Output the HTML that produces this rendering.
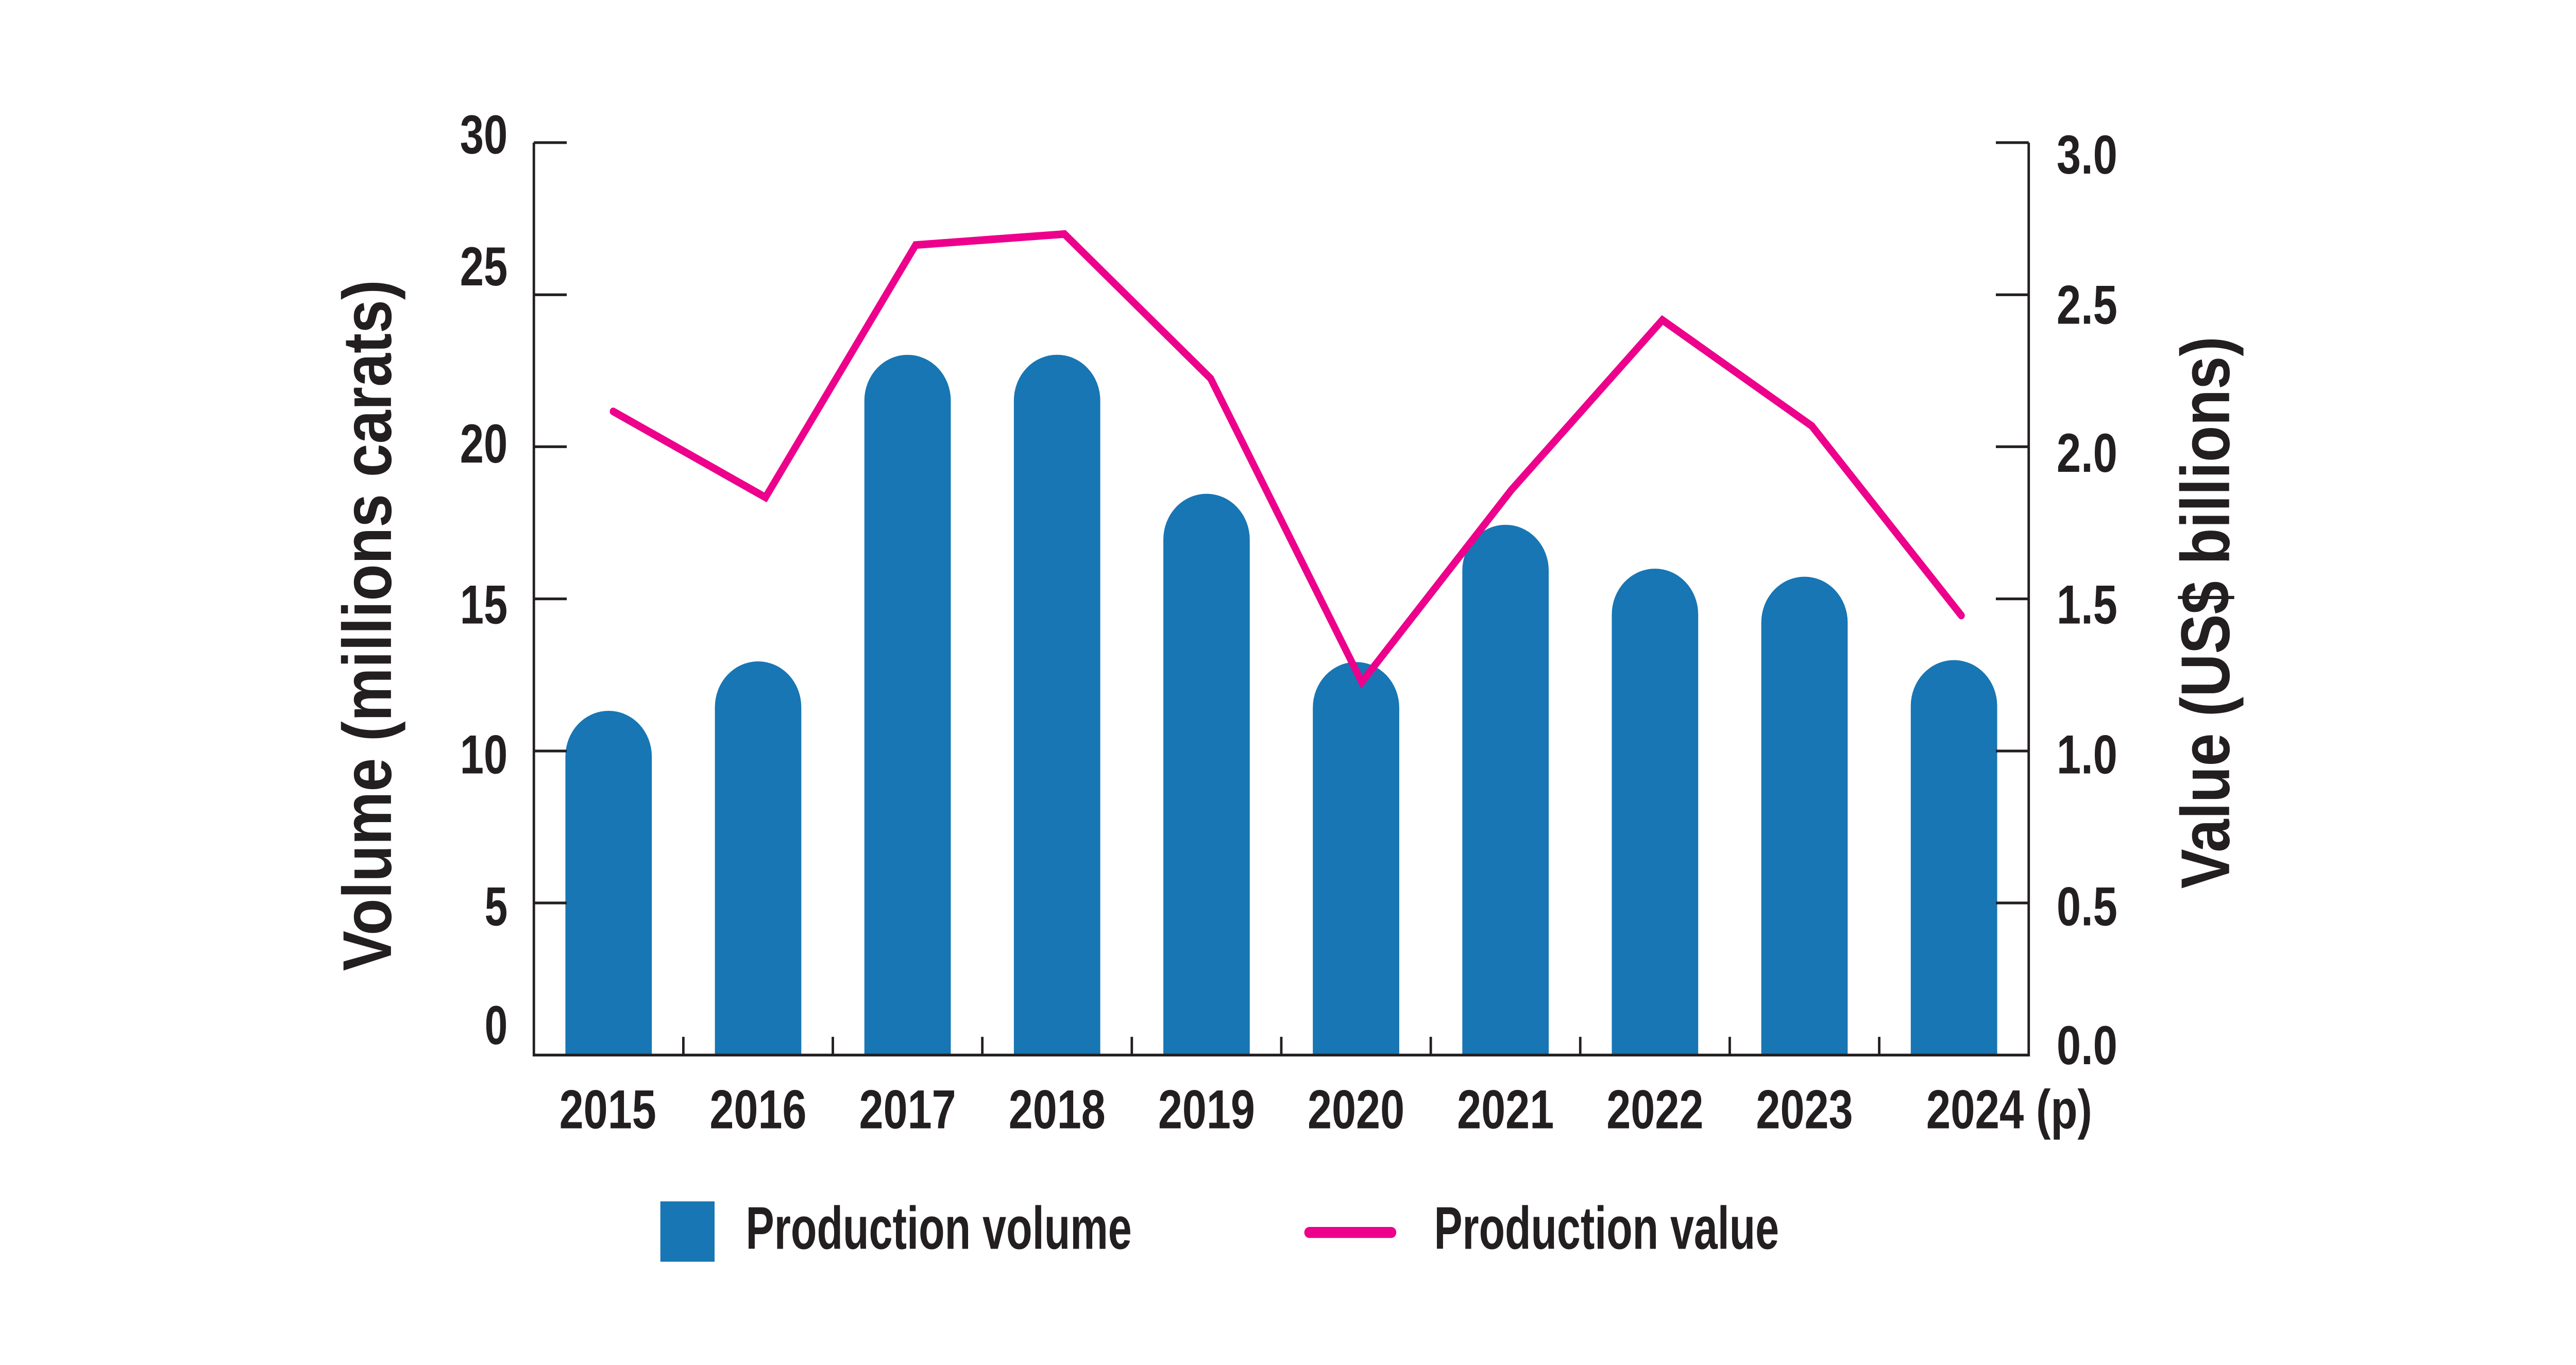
<!DOCTYPE html>
<html><head><meta charset="utf-8"><style>
html,body{margin:0;padding:0;background:#fff;width:100%;height:100%;overflow:hidden;}
svg{display:block;position:absolute;left:0;top:0;width:100vw;height:100vh;}
text{font-family:"Liberation Sans",sans-serif;font-weight:bold;fill:#231f20;}
</style></head><body>
<svg viewBox="0 0 1568.17 746.48" preserveAspectRatio="none" xmlns="http://www.w3.org/2000/svg">
<rect width="1568.17" height="746.48" fill="#fff"/>
<g fill="#1776b3">
<path d="M344.2,577 V413.7 A26.3,25 0 0 1 396.8,413.7 V577 Z"/>
<path d="M435.2,577 V386.7 A26.3,25 0 0 1 487.8,386.7 V577 Z"/>
<path d="M526.2,577 V219 A26.3,25 0 0 1 578.8,219 V577 Z"/>
<path d="M617.2,577 V219 A26.3,25 0 0 1 669.8,219 V577 Z"/>
<path d="M708.2,577 V295 A26.3,25 0 0 1 760.8,295 V577 Z"/>
<path d="M799.2,577 V387 A26.3,25 0 0 1 851.8,387 V577 Z"/>
<path d="M890.2,577 V312 A26.3,25 0 0 1 942.8,312 V577 Z"/>
<path d="M981.2,577 V336 A26.3,25 0 0 1 1033.8,336 V577 Z"/>
<path d="M1072.2,577 V340.4 A26.3,25 0 0 1 1124.8,340.4 V577 Z"/>
<path d="M1163.2,577 V386 A26.3,25 0 0 1 1215.8,386 V577 Z"/>
</g>
<g stroke="#231f20" stroke-width="1.5" fill="none">
<path d="M325,78 V577 H1235 V78"/>
<path d="M325,78 h20 M325,161.2 h20 M325,244.3 h20 M325,327.5 h20 M325,410.7 h20 M325,493.8 h20"/>
<path d="M1235,78 h-20 M1235,161.2 h-20 M1235,244.3 h-20 M1235,327.5 h-20 M1235,410.7 h-20 M1235,493.8 h-20"/>
<path d="M416,577 v-10 M507,577 v-10 M598,577 v-10 M689,577 v-10 M780,577 v-10 M871,577 v-10 M962,577 v-10 M1053,577 v-10 M1144,577 v-10"/>
</g>
<polyline points="373.3,225 466,272 557.4,134 648,128 737,207 829,373 920,268 1012,175 1103,233 1194,336.6" fill="none" stroke="#ec008c" stroke-width="4.2" stroke-linejoin="miter" stroke-linecap="round"/>
<g font-size="30" text-anchor="end">
<text x="309" y="84" textLength="29" lengthAdjust="spacingAndGlyphs">30</text>
<text x="309" y="156" textLength="29" lengthAdjust="spacingAndGlyphs">25</text>
<text x="309" y="253" textLength="29" lengthAdjust="spacingAndGlyphs">20</text>
<text x="309" y="341" textLength="29" lengthAdjust="spacingAndGlyphs">15</text>
<text x="309" y="423" textLength="29" lengthAdjust="spacingAndGlyphs">10</text>
<text x="309" y="506" textLength="14" lengthAdjust="spacingAndGlyphs">5</text>
<text x="309" y="571" textLength="14" lengthAdjust="spacingAndGlyphs">0</text>
</g>
<g font-size="30">
<text x="1252" y="95" textLength="37" lengthAdjust="spacingAndGlyphs">3.0</text>
<text x="1252" y="177" textLength="37" lengthAdjust="spacingAndGlyphs">2.5</text>
<text x="1252" y="258" textLength="37" lengthAdjust="spacingAndGlyphs">2.0</text>
<text x="1252" y="341" textLength="37" lengthAdjust="spacingAndGlyphs">1.5</text>
<text x="1252" y="423" textLength="37" lengthAdjust="spacingAndGlyphs">1.0</text>
<text x="1252" y="506" textLength="37" lengthAdjust="spacingAndGlyphs">0.5</text>
<text x="1252" y="582" textLength="37" lengthAdjust="spacingAndGlyphs">0.0</text>
</g>
<g font-size="30" text-anchor="middle">
<text x="370" y="617" textLength="59" lengthAdjust="spacingAndGlyphs">2015</text>
<text x="461.5" y="617" textLength="59" lengthAdjust="spacingAndGlyphs">2016</text>
<text x="552.5" y="617" textLength="59" lengthAdjust="spacingAndGlyphs">2017</text>
<text x="643.5" y="617" textLength="59" lengthAdjust="spacingAndGlyphs">2018</text>
<text x="734.5" y="617" textLength="59" lengthAdjust="spacingAndGlyphs">2019</text>
<text x="825.5" y="617" textLength="59" lengthAdjust="spacingAndGlyphs">2020</text>
<text x="916.5" y="617" textLength="59" lengthAdjust="spacingAndGlyphs">2021</text>
<text x="1007.5" y="617" textLength="59" lengthAdjust="spacingAndGlyphs">2022</text>
<text x="1098.5" y="617" textLength="59" lengthAdjust="spacingAndGlyphs">2023</text>
</g>
<text x="1172.6" y="617" font-size="30" textLength="101" lengthAdjust="spacingAndGlyphs">2024 (p)</text>
<text transform="translate(238,342) rotate(-90)" font-size="42" text-anchor="middle" textLength="378" lengthAdjust="spacingAndGlyphs">Volume (millions carats)</text>
<text transform="translate(1357,335) rotate(-90)" font-size="42" text-anchor="middle" textLength="302" lengthAdjust="spacingAndGlyphs">Value (US$ billions)</text>
<rect x="402" y="657" width="33" height="33" fill="#1776b3"/>
<text x="454" y="683" font-size="33" textLength="235" lengthAdjust="spacingAndGlyphs">Production volume</text>
<line x1="797" y1="674" x2="847" y2="674" stroke="#ec008c" stroke-width="6" stroke-linecap="round"/>
<text x="873" y="683" font-size="33" textLength="210" lengthAdjust="spacingAndGlyphs">Production value</text>
</svg>
</body></html>
